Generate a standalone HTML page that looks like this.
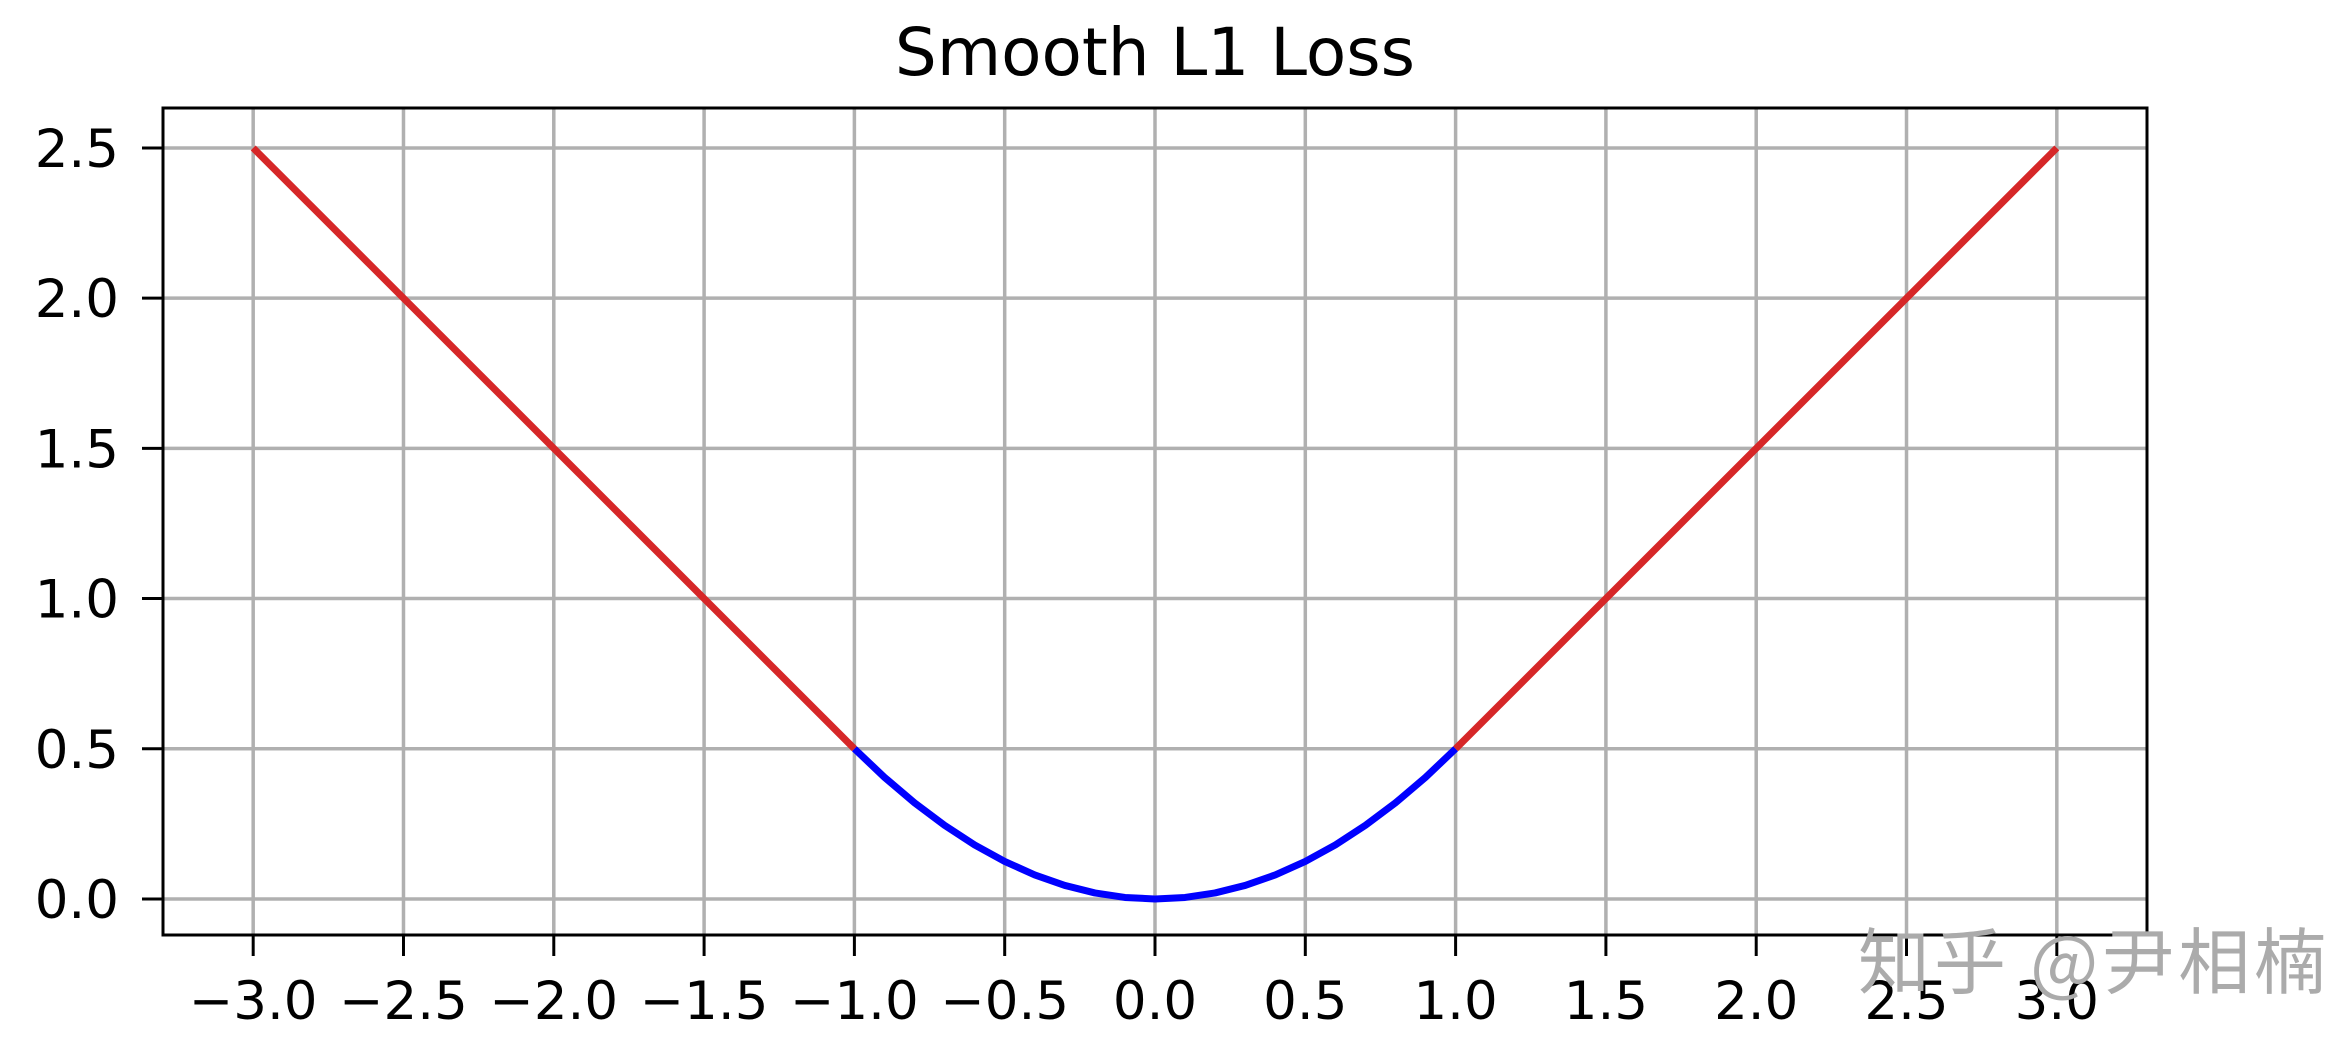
<!DOCTYPE html>
<html><head><meta charset="utf-8"><style>
html,body{margin:0;padding:0;background:#fff;}
svg{display:block;}
text{font-family:"DejaVu Sans","Liberation Sans",sans-serif;fill:#000;}
</style></head><body>
<svg id="chart" width="2344" height="1044" viewBox="0 0 2344 1044">
<rect width="2344" height="1044" fill="#fff"/>
<text x="1155" y="75" font-size="66" text-anchor="middle">Smooth L1 Loss</text>
<g id="grid"></g>
<g id="series"></g>
<rect x="163" y="108" width="1984" height="827" fill="none" stroke="#000" stroke-width="3"/>
<g id="ticks"></g>
<text x="1858" y="988" font-size="72" letter-spacing="4" style="fill:#ababab;font-family:'Noto Sans CJK SC','WenQuanYi Zen Hei',sans-serif">知乎 @尹相楠</text>
</svg>
<script>
const xTicks = [-3.0,-2.5,-2.0,-1.5,-1.0,-0.5,0.0,0.5,1.0,1.5,2.0,2.5,3.0];
const yTicks = [0.0,0.5,1.0,1.5,2.0,2.5];
const leftX = [-3.0,-1.0];
const leftY = [2.5,0.5];
const rightX = [1.0,3.0];
const rightY = [0.5,2.5];
const quadX = [-1.0,-0.9,-0.8,-0.7,-0.6,-0.5,-0.4,-0.3,-0.2,-0.1,0.0,0.1,0.2,0.3,0.4,0.5,0.6,0.7,0.8,0.9,1.0];
const quadY = [0.5,0.405,0.32,0.245,0.18,0.125,0.08,0.045,0.02,0.005,0.0,0.005,0.02,0.045,0.08,0.125,0.18,0.245,0.32,0.405,0.5];

const X0=163,X1=2147,Y0=935,Y1=108,xMin=-3.3,xMax=3.3,yMin=-0.12,yMax=2.633;
const sx=v=>X0+(v-xMin)/(xMax-xMin)*(X1-X0);
const sy=v=>Y0-(v-yMin)/(yMax-yMin)*(Y0-Y1);
const NS="http://www.w3.org/2000/svg";
function mk(tag,attrs,parent){const e=document.createElementNS(NS,tag);for(const k in attrs)e.setAttribute(k,attrs[k]);parent.appendChild(e);return e;}
const grid=document.getElementById('grid'),ticks=document.getElementById('ticks'),series=document.getElementById('series');
const fmt=v=>(v<0?'\u2212':'')+Math.abs(v).toFixed(1);
xTicks.forEach(v=>{
  const x=sx(v);
  const g=mk('line',{x1:x,x2:x,y1:Y1,y2:Y0,stroke:'#b0b0b0','stroke-width':3.5},grid);
  
  
  const t=mk('line',{x1:x,x2:x,y1:Y0,y2:Y0+21,stroke:'#000','stroke-width':3},ticks);
  
  
  const l=mk('text',{x:x,y:1019,'font-size':53,'text-anchor':'middle'},ticks);
  l.textContent=fmt(v);
  
  
});
yTicks.forEach(v=>{
  const y=sy(v);
  const g=mk('line',{x1:X0,x2:X1,y1:y,y2:y,stroke:'#b0b0b0','stroke-width':3.5},grid);
  
  
  const t=mk('line',{x1:X0-21,x2:X0,y1:y,y2:y,stroke:'#000','stroke-width':3},ticks);
  
  
  const l=mk('text',{x:119,y:y+19,'font-size':53,'text-anchor':'end'},ticks);
  l.textContent=fmt(v);
  
  
});
function poly(xs,ys,color,name){
  const p=mk('polyline',{points:xs.map((x,i)=>sx(x)+','+sy(ys[i])).join(' '),fill:'none',stroke:color,'stroke-width':7,'stroke-linejoin':'round'},series);
  
  
}
poly(quadX,quadY,'#0000ff','quadratic-segment');
poly(leftX,leftY,'#d62728','left-linear-segment');
poly(rightX,rightY,'#d62728','right-linear-segment');
</script>
</body></html>
